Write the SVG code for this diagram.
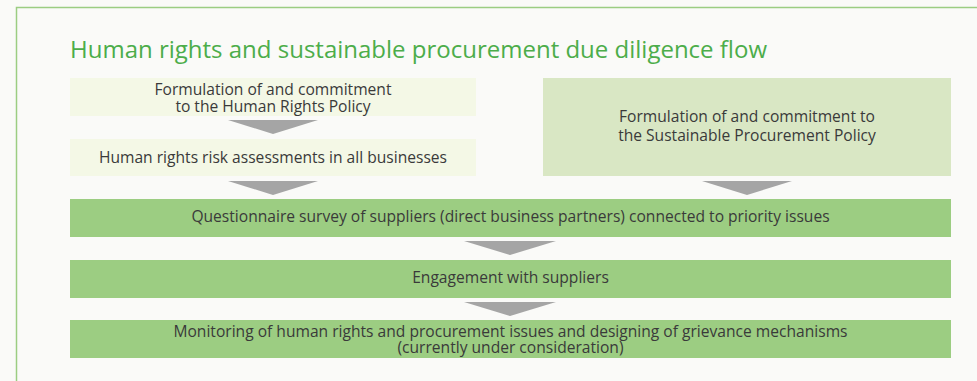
<svg xmlns="http://www.w3.org/2000/svg" width="977" height="381" viewBox="0 0 977 381">
<style>
.t{font-family:"Open Sans","Noto Sans","Liberation Sans",sans-serif;font-size:15.6px;fill:#3a3a3a;text-anchor:middle}
.title{font-family:"Open Sans","Noto Sans","Liberation Sans",sans-serif;font-size:24px;fill:#4cad4a}
.arr{fill:#a5a5a5}
.g{fill:#9ccd82}
.l{fill:#f4f8e6}
</style>
<rect x="0" y="0" width="977" height="381" fill="#fafaf8"/>
<path d="M16.5,390 V7.5 H990" fill="none" stroke="#9ccd82" stroke-width="1.5"/>
<text class="title" x="70" y="58">Human rights and sustainable procurement due diligence flow</text>
<g id="hr-policy">
<rect class="l" x="70" y="78" width="406" height="38"/>
<text class="t" x="273" y="95">Formulation of and commitment</text>
<text class="t" x="273" y="111.5">to the Human Rights Policy</text>
</g>
<g id="hr-risk">
<rect class="l" x="70" y="139" width="406" height="37"/>
<text class="t" x="273" y="163">Human rights risk assessments in all businesses</text>
</g>
<g id="sp-policy">
<rect x="543" y="78" width="408" height="98" fill="#d9e7c4"/>
<text class="t" x="747" y="122">Formulation of and commitment to</text>
<text class="t" x="747" y="140.5">the Sustainable Procurement Policy</text>
</g>
<g id="questionnaire">
<rect class="g" x="70" y="199" width="881" height="38"/>
<text class="t" x="510.5" y="222">Questionnaire survey of suppliers (direct business partners) connected to priority issues</text>
</g>
<g id="engagement">
<rect class="g" x="70" y="260" width="881" height="38"/>
<text class="t" x="510.5" y="283">Engagement with suppliers</text>
</g>
<g id="monitoring">
<rect class="g" x="70" y="320" width="881" height="38"/>
<text class="t" x="510.5" y="336.5">Monitoring of human rights and procurement issues and designing of grievance mechanisms</text>
<text class="t" x="510.5" y="353">(currently under consideration)</text>
</g>
<g id="connectors">
<polygon class="arr" points="228,120 318,120 273,134"/>
<polygon class="arr" points="228,181 318,181 273,195"/>
<polygon class="arr" points="702,181 792,181 747,195"/>
<polygon class="arr" points="464,241 556,241 510,255"/>
<polygon class="arr" points="464,302 556,302 510,316"/>
</g>
</svg>
